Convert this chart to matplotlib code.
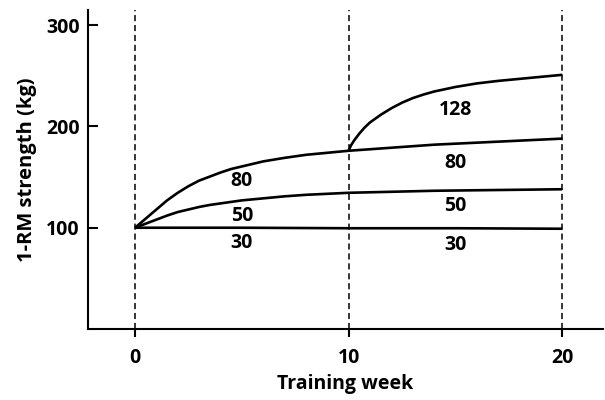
import matplotlib.pyplot as plt

# 1-RM strength (kg) vs training week, readings
weeks_30 = [0, 5, 10, 15, 20]
rm_30 = [100, 100, 99.5, 99.5, 99]

weeks_50 = [0, 0.5, 1, 1.5, 2, 2.5, 3, 3.5, 4, 5, 6, 7, 8, 9, 10,
            12, 14, 16, 18, 20]
rm_50 = [100, 104, 108, 112, 115.5, 118, 120.5, 122.5, 124, 127, 129,
         131, 132.5, 133.5, 134.5, 135.5, 136.5, 137, 137.5, 138]

weeks_80 = [0, 0.5, 1, 1.5, 2, 2.5, 3, 3.5, 4, 4.5, 5, 5.5, 6, 7, 8, 9, 10,
            12, 14, 16, 18, 20]
rm_80 = [100, 109, 118, 127, 134.5, 141, 146.5, 150.5, 154.5, 158, 160.5,
         163, 165.5, 169, 172, 174, 176, 179, 182, 184, 186, 188]

weeks_128 = [10, 10.1, 10.25, 10.5, 10.75, 11, 11.5, 12, 12.5, 13, 13.5,
             14, 15, 16, 17, 18, 19, 20]
rm_128 = [176, 181, 186, 193, 199, 204, 211.5, 218, 223.5, 228, 231.5,
          234.5, 239, 242.5, 245, 247, 249, 251]

labels = ['30', '50', '80', '30', '50', '80', '128']
label_x = [5, 5, 5, 15, 15, 15, 15]
label_y = [85, 112, 146, 83, 121, 164, 216]

xticks = [0, 10, 20]
yticks = [100, 200, 300]

plt.rcParams['font.family'] = ['Open Sans', 'DejaVu Sans']
plt.rcParams['font.weight'] = 'bold'
plt.rcParams['font.size'] = 14

fig = plt.figure(figsize=(6.05, 4.0), dpi=100)
ax = fig.add_axes([0.1455, 0.1775, 0.851, 0.7975])

for wk in xticks:
    ax.axvline(wk, color='black', lw=1.1, ls=(0, (4, 2.5)), zorder=1)

for w, v in [(weeks_30, rm_30), (weeks_50, rm_50), (weeks_80, rm_80), (weeks_128, rm_128)]:
    ax.plot(w, v, color='black', lw=1.9, solid_capstyle='butt',
            solid_joinstyle='round', zorder=2)

for t, x, y in zip(labels, label_x, label_y):
    ax.text(x, y, t, ha='center', va='center', fontsize=14, fontweight='bold')

ax.set_xlim(-2.2, 21.9)
ax.set_ylim(0, 315)
ax.set_xticks(xticks)
ax.set_yticks(yticks)
ax.spines['top'].set_visible(False)
ax.spines['right'].set_visible(False)
for s in ['left', 'bottom']:
    ax.spines[s].set_linewidth(1.5)
ax.tick_params(axis='y', direction='in', length=7, width=1.5, pad=6)
ax.tick_params(axis='x', direction='out', length=6, width=1.5, pad=8)

ax.set_xlabel('Training week', fontsize=14, fontweight='bold')
ax.set_ylabel('1-RM strength (kg)', fontsize=14.5, fontweight='bold')
ax.xaxis.set_label_coords(0.5, -0.14)
ax.yaxis.set_label_coords(-0.1, 0.5)

fig.savefig('out.png', dpi=100)
